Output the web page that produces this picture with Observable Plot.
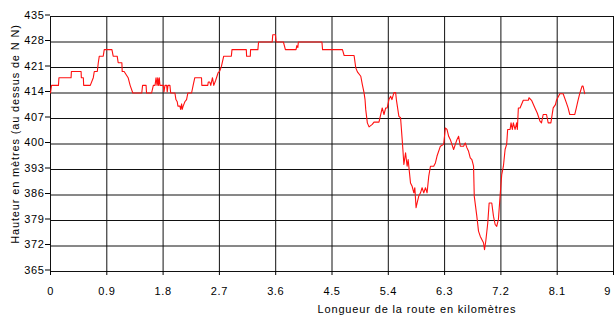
<!DOCTYPE html>
<html><head><meta charset="utf-8">
<script src="https://cdn.jsdelivr.net/npm/d3@7"></script>
<script src="https://cdn.jsdelivr.net/npm/@observablehq/plot@0.6"></script>
<style>
body{margin:0;background:#fff;overflow:hidden}
g[aria-label="y-axis tick label"] text, g[aria-label="x-axis tick label"] text {letter-spacing:0.6px}
g[aria-label="text"] text {letter-spacing:0.85px}
</style>
</head><body><div id="chart"></div>
<script>
const km = [0,0.016,0.127,0.135,0.329,0.334,0.489,0.493,0.525,0.530,0.636,0.684,0.700,0.748,0.764,0.780,0.843,0.859,0.982,1.002,1.066,1.082,1.141,1.146,1.177,1.241,1.273,1.316,1.459,1.472,1.528,1.535,1.616,1.644,1.671,1.687,1.703,1.714,1.726,1.739,1.750,1.803,1.814,1.830,1.857,1.866,1.878,1.909,1.921,1.989,2.005,2.026,2.037,2.069,2.080,2.096,2.105,2.121,2.148,2.175,2.196,2.255,2.280,2.307,2.414,2.419,2.514,2.522,2.546,2.562,2.589,2.610,2.641,2.678,2.705,2.732,2.769,2.891,2.901,3.130,3.135,3.194,3.198,3.315,3.326,3.544,3.553,3.596,3.607,3.723,3.755,3.925,3.938,3.954,3.962,4.339,4.349,4.667,4.694,4.853,4.880,4.906,4.960,4.985,5.012,5.028,5.039,5.065,5.092,5.144,5.171,5.251,5.303,5.331,5.358,5.383,5.410,5.437,5.458,5.490,5.517,5.529,5.569,5.596,5.622,5.633,5.649,5.676,5.701,5.717,5.755,5.781,5.808,5.824,5.844,5.860,5.887,5.915,5.940,5.967,5.994,6.020,6.047,6.074,6.126,6.153,6.179,6.233,6.285,6.312,6.338,6.365,6.392,6.444,6.497,6.524,6.551,6.603,6.630,6.656,6.683,6.710,6.736,6.763,6.774,6.815,6.842,6.869,6.895,6.922,6.938,6.958,6.990,7.012,7.054,7.081,7.108,7.133,7.160,7.187,7.213,7.240,7.267,7.292,7.308,7.347,7.362,7.383,7.399,7.426,7.452,7.463,7.479,7.506,7.558,7.638,7.649,7.690,7.744,7.781,7.824,7.849,7.876,7.929,7.956,7.999,8.036,8.072,8.088,8.142,8.195,8.247,8.274,8.301,8.381,8.406,8.433,8.460,8.497,8.513,8.540];
const elevation = [414,416.1,416.1,418.2,418.2,419.9,419.9,418.2,418.2,416.1,416.1,418.2,419.9,419.9,422.3,424.1,424.1,425.9,425.9,424.1,424.1,422.3,422.3,419.9,419.9,418.2,416.1,414,414,416.1,416.1,414,414,416.1,416.1,418.2,416.1,418.2,416.1,418.2,416.1,416.1,414.3,416.1,416.1,414.3,416.1,416.1,414,414,412.2,411.6,410.4,410.4,409.5,411,409.5,410.4,411.6,412.2,414,414,416.1,418.2,418.2,416.1,416.1,417,417,416.1,418.2,416.1,417.5,419.5,420,421.3,424.1,424.1,425.9,425.9,424.1,424.1,425.9,425.9,428,428,430,430,428,428,425.9,425.9,427,426.5,428,428,425.9,425.9,424.3,424.3,420.9,419.8,418.6,416.3,414.1,412.2,409.5,405.8,404.7,405.4,406,406,409.9,408.1,409.9,409.9,412.2,413.1,412.2,414.1,414.1,412.2,407.6,407.2,401.2,398.5,394.4,397.6,393.9,395.7,389.3,388.4,386.6,388,382.5,383.8,385.7,386.6,388,386.6,388,386.6,391.2,393.9,393.9,394.8,396.7,399.4,399.9,404.4,404,402.1,401.2,398.5,401.2,402.1,399.4,399.4,400.3,399,398,396.2,395.7,393.9,385.7,380.2,376.1,374.7,373.8,372.9,371,373.3,378.3,383.8,383.8,380.2,377.9,377.4,379.3,385.7,391.6,393.9,398.5,399.9,404,404,405.8,404,405.8,404,405.8,404,409.9,409.9,412,412,412.7,412,409.9,408.5,406.3,405.8,408.1,408.1,405.8,405.8,409.9,410.8,412,413.8,413.8,411.3,409.9,408.1,408.1,409.9,412,413.8,415.9,415.9,413.8];
const xTicks = [0, 0.9, 1.8, 2.7, 3.6, 4.5, 5.4, 6.3, 7.2, 8.1, 9];
const yTicks = [365, 372, 379, 386, 393, 400, 407, 414, 421, 428, 435];
const xTitle = "Longueur de la route en kilomètres";
const yTitle = "Hauteur en mètres (au dessus de N N)";

const data = km.map((d, i) => ({km: d, h: elevation[i]}));
const font = "'Liberation Sans', Arial, sans-serif";

const chart = Plot.plot({
  width: 614,
  height: 315,
  marginLeft: 50,
  marginRight: 1,
  marginTop: 16,
  marginBottom: 44,
  x: {domain: [0, 9], range: [50, 613]},
  y: {domain: [365, 435], range: [271, 16]},
  style: {fontFamily: font, fontSize: "11px", background: "#fff", color: "#000", overflow: "visible"},
  marks: [
    Plot.ruleX(xTicks, {stroke: "#111"}),
    Plot.ruleY(yTicks, {stroke: "#111"}),
    Plot.line(data, {x: "km", y: "h", stroke: "#ff1010", strokeWidth: 1.1}),
    Plot.axisY({ticks: yTicks, tickSize: 5, tickPadding: 1, label: null, stroke: "#000", fill: "#000", dy: -1.5}),
    Plot.axisX({ticks: xTicks, tickSize: 4, tickPadding: 12, label: null, tickFormat: d => d === 9 ? "" : String(d), stroke: "#000", fill: "#000"}),
    Plot.axisX({ticks: [9], tickSize: 0, tickPadding: 16, label: null, dx: -6, fill: "#000"}),
    Plot.text([xTitle], {frameAnchor: "bottom-left", dx: 267, dy: 38.3, textAnchor: "start", lineAnchor: "middle", fontSize: 11, fill: "#000"}),
    Plot.text([yTitle], {frameAnchor: "left", rotate: -90, dx: -35, dy: -10, textAnchor: "middle", lineAnchor: "middle", fontSize: 11, fill: "#000"})
  ]
});
document.getElementById("chart").appendChild(chart);
</script>
</body></html>
